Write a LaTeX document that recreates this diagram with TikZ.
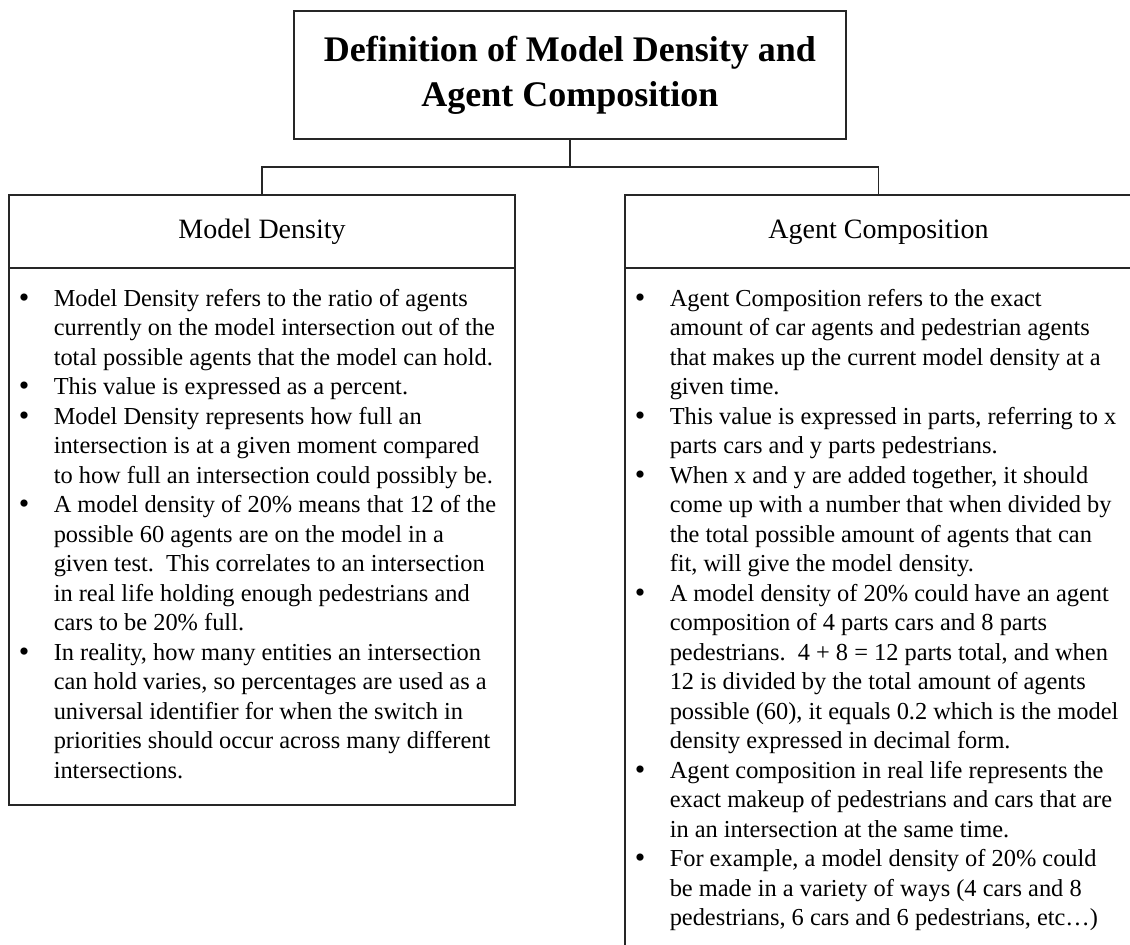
\documentclass[tikz,border=0pt]{standalone}
\usepackage{fontspec}
\setmainfont{Liberation Serif}
\usepackage{array}
\newcommand{\bodyfnt}{\fontsize{12.2pt}{14.75pt}\selectfont}
\newcommand{\bl}{\raisebox{-0.3pt}{\fontsize{15pt}{14pt}\selectfont\textbullet}}
\begin{document}
\begin{tikzpicture}[x=0.5pt,y=-0.5pt, line width=0.75pt,
  boxstyle/.style={draw=black!85, rectangle, inner sep=0pt, outer sep=0pt},
  headfont/.style={font=\fontsize{14pt}{16pt}\selectfont, text height=9.8pt, text depth=3pt},
  bodytext/.style={anchor=north west, inner sep=0pt, font=\bodyfnt, align=left},
  link/.style={draw=black!85, line width=0.75pt}]
\clip (0,0) rectangle (1130,944);
\node[boxstyle, minimum width=276pt, minimum height=64pt,
  font=\fontsize{18pt}{22.5pt}\selectfont\bfseries, align=center] (title) at (570,75)
  {Definition of Model Density and\\Agent Composition};
\node[boxstyle, headfont, minimum width=253pt, minimum height=36.5pt] (lhead) at (262,231.5) {Model Density};
\node[boxstyle, minimum width=253pt, minimum height=268.5pt, anchor=north] (lbody) at (262,268) {};
\node[boxstyle, headfont, minimum width=253.5pt, minimum height=36.5pt] (rhead) at (878.5,231.5) {Agent Composition};
\node[boxstyle, minimum width=253.5pt, minimum height=400pt, anchor=north] (rbody) at (878.5,268) {};
\coordinate (j) at (570,167);
\draw[link] (title.south) -- (j);
\draw[link] (j) -| (lhead.north);
\draw[link] (j) -| (rhead.north);
\node[bodytext] (ltext) at (18,285) {\begin{tabular}{@{}p{17.5pt}@{}l@{}}
\bl & Model Density refers to the ratio of agents\\
 & currently on the model intersection out of the\\
 & total possible agents that the model can hold.\\
\bl & This value is expressed as a percent.\\
\bl & Model Density represents how full an\\
 & intersection is at a given moment compared\\
 & to how full an intersection could possibly be.\\
\bl & A model density of 20\% means that 12 of the\\
 & possible 60 agents are on the model in a\\
 & given test.\ \ This correlates to an intersection\\
 & in real life holding enough pedestrians and\\
 & cars to be 20\% full.\\
\bl & In reality, how many entities an intersection\\
 & can hold varies, so percentages are used as a\\
 & universal identifier for when the switch in\\
 & priorities should occur across many different\\
 & intersections.
\end{tabular}};
\node[bodytext] (rtext) at (634,285) {\begin{tabular}{@{}p{17.5pt}@{}l@{}}
\bl & Agent Composition refers to the exact\\
 & amount of car agents and pedestrian agents\\
 & that makes up the current model density at a\\
 & given time.\\
\bl & This value is expressed in parts, referring to x\\
 & parts cars and y parts pedestrians.\\
\bl & When x and y are added together, it should\\
 & come up with a number that when divided by\\
 & the total possible amount of agents that can\\
 & fit, will give the model density.\\
\bl & A model density of 20\% could have an agent\\
 & composition of 4 parts cars and 8 parts\\
 & pedestrians.\ \ 4 + 8 = 12 parts total, and when\\
 & 12 is divided by the total amount of agents\\
 & possible (60), it equals 0.2 which is the model\\
 & density expressed in decimal form.\\
\bl & Agent composition in real life represents the\\
 & exact makeup of pedestrians and cars that are\\
 & in an intersection at the same time.\\
\bl & For example, a model density of 20\% could\\
 & be made in a variety of ways (4 cars and 8\\
 & pedestrians, 6 cars and 6 pedestrians, etc…)
\end{tabular}};
\end{tikzpicture}
\end{document}
